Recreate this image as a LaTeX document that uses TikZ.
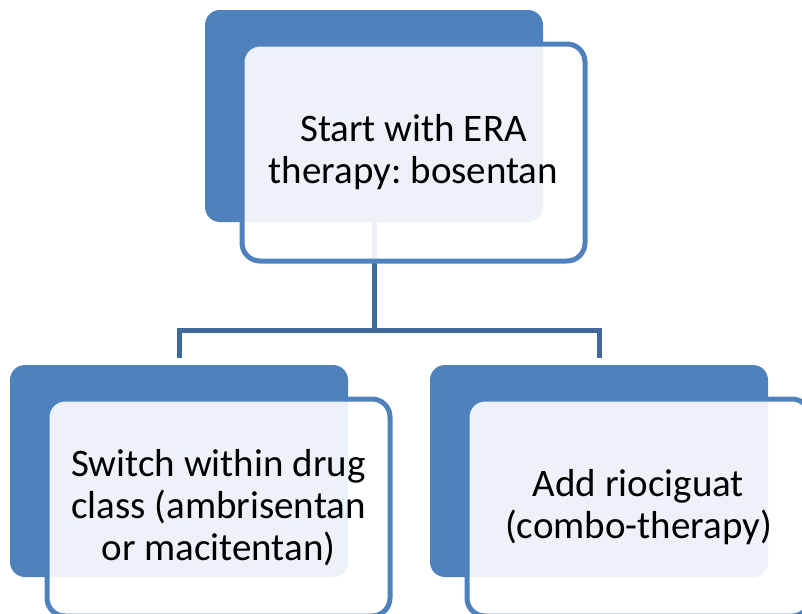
\documentclass[tikz,border=0pt]{standalone}
\usepackage{fontspec}
\setmainfont{Carlito}
\usepackage{xcolor}
\usepackage{tikz}
\usetikzlibrary{positioning}

\definecolor{boxblue}{HTML}{4F81BD}
\definecolor{linkblue}{HTML}{41699A}

\begin{document}
\frenchspacing
\begin{tikzpicture}[x=1pt, y=-1pt,
    backbox/.style={fill=boxblue, rounded corners=15pt, inner sep=0pt,
      minimum width=338pt, minimum height=212pt},
    frontbox/.style={draw=boxblue, line width=5pt, fill=white, fill opacity=0.9,
      text opacity=1, rounded corners=18pt, inner sep=0pt, align=center,
      minimum width=343pt, minimum height=217pt,
      xshift=39.5pt, yshift=-36.5pt, font=\fontsize{39}{42}\selectfont},
    link/.style={draw=linkblue, line width=5pt}]
      \clip (0,0) rectangle (802,613);

      % back boxes
      \node[backbox] (startback) at (374, 116) {};
      \node[backbox] (switchback) at (179, 471) {};
      \node[backbox] (addback) at (599, 471) {};

      % connectors
      \coordinate (fork) at (374, 330);
      \draw[link] (startback.south) -- (fork) -| ([yshift=7pt]switchback.north);
      \draw[link] (fork) -| ([yshift=7pt]addback.north);

      % front boxes
      \node[frontbox] (start) at (startback) {Start with ERA\\therapy: bosentan};
      \node[frontbox] (switch) at (switchback) {Switch within drug\\class (ambrisentan\\or macitentan)};
      \node[frontbox] (add) at (addback) {Add riociguat\\(combo-therapy)};
    \end{tikzpicture}
\end{document}
